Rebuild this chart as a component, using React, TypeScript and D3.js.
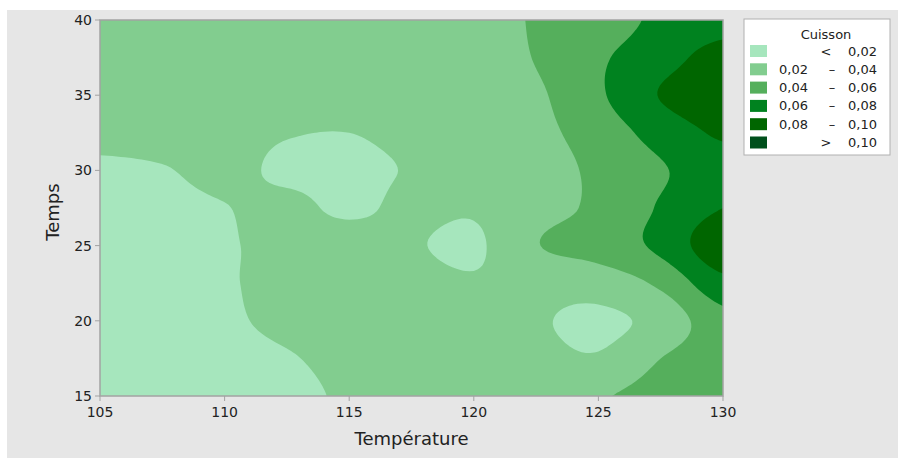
import { useMemo } from 'react'
import * as d3 from 'd3'

// Température (°C) columns and Temps (min) rows of the response grid
const temperatures = [105, 107.5, 110, 112.5, 115, 117.5, 120, 122.5, 125, 127.5, 130]
const times = [15, 17.5, 20, 22.5, 25, 27.5, 30, 32.5, 35, 37.5, 40]

// Cuisson, one row per time
const cuisson15 = [0.012, 0.014, 0.015, 0.017, 0.022, 0.028, 0.029, 0.030, 0.038, 0.047, 0.052]
const cuisson175 = [0.012, 0.014, 0.016, 0.019, 0.024, 0.028, 0.028, 0.026, 0.022, 0.040, 0.051]
const cuisson20 = [0.012, 0.014, 0.018, 0.023, 0.027, 0.028, 0.027, 0.022, 0.016, 0.027, 0.053]
const cuisson225 = [0.013, 0.015, 0.019, 0.023, 0.027, 0.027, 0.022, 0.026, 0.029, 0.044, 0.074]
const cuisson25 = [0.014, 0.015, 0.019, 0.023, 0.028, 0.022, 0.017, 0.039, 0.048, 0.065, 0.094]
const cuisson275 = [0.015, 0.016, 0.0195, 0.024, 0.017, 0.024, 0.022, 0.033, 0.044, 0.062, 0.080]
const cuisson30 = [0.017, 0.019, 0.024, 0.017, 0.017, 0.021, 0.026, 0.032, 0.044, 0.058, 0.072]
const cuisson325 = [0.025, 0.026, 0.026, 0.021, 0.020, 0.024, 0.028, 0.035, 0.049, 0.068, 0.083]
const cuisson35 = [0.029, 0.029, 0.028, 0.027, 0.026, 0.029, 0.030, 0.037, 0.057, 0.081, 0.093]
const cuisson375 = [0.030, 0.030, 0.029, 0.029, 0.029, 0.030, 0.030, 0.041, 0.057, 0.072, 0.088]
const cuisson40 = [0.030, 0.030, 0.030, 0.030, 0.030, 0.030, 0.030, 0.042, 0.050, 0.064, 0.072]

const cuissonRows = [cuisson15, cuisson175, cuisson20, cuisson225, cuisson25, cuisson275,
  cuisson30, cuisson325, cuisson35, cuisson375, cuisson40]

const levels = [0.02, 0.04, 0.06, 0.08, 0.1]
const levelColors = ['#a6e6bd', '#82cd8f', '#55af5c', '#00821f', '#006600', '#00501c']
const legendRows = [
  ['', '<', '0,02'],
  ['0,02', '–', '0,04'],
  ['0,04', '–', '0,06'],
  ['0,06', '–', '0,08'],
  ['0,08', '–', '0,10'],
  ['', '>', '0,10'],
]
const tempTicks = [105, 110, 115, 120, 125, 130]
const timeTicks = [15, 20, 25, 30, 35, 40]

const W = 898
const H = 459
const plot = { left: 100, right: 723, top: 20, bottom: 396 }
const font = '"DejaVu Sans", sans-serif'

// catmull-rom so the bands come out smooth like the minitab mesh
function cubic(p0: number, p1: number, p2: number, p3: number, t: number) {
  return p1 + 0.5 * t * (p2 - p0 + t * (2 * p0 - 5 * p1 + 4 * p2 - p3 + t * (3 * (p1 - p2) + p3 - p0)))
}

function resample(rows: number[][], nx: number, ny: number) {
  const R = rows.length, C = rows[0].length
  const at = (r: number, c: number) => rows[Math.max(0, Math.min(R - 1, r))][Math.max(0, Math.min(C - 1, c))]
  const out = new Array(nx * ny)
  for (let j = 0; j < ny; j++) {
    const gy = (j / (ny - 1)) * (R - 1)
    const r = Math.min(R - 2, Math.floor(gy)), ty = gy - r
    for (let i = 0; i < nx; i++) {
      const gx = (i / (nx - 1)) * (C - 1)
      const c = Math.min(C - 2, Math.floor(gx)), tx = gx - c
      const col = [-1, 0, 1, 2].map(dr =>
        cubic(at(r + dr, c - 1), at(r + dr, c), at(r + dr, c + 1), at(r + dr, c + 2), tx))
      out[j * nx + i] = cubic(col[0], col[1], col[2], col[3], ty)
    }
  }
  return out
}

export default function App() {
  const x = d3.scaleLinear().domain(d3.extent(temperatures) as [number, number]).range([plot.left, plot.right])
  const y = d3.scaleLinear().domain(d3.extent(times) as [number, number]).range([plot.bottom, plot.top])

  const nx = 151, ny = 121
  const bands = useMemo(() => {
    const values = resample(cuissonRows, nx, ny)
    return d3.contours().size([nx, ny]).thresholds(levels)(values)
  }, [])

  const t0 = temperatures[0], t1 = temperatures[temperatures.length - 1]
  const s0 = times[0], s1 = times[times.length - 1]
  const path = d3.geoPath(d3.geoTransform({
    point(px: number, py: number) {
      this.stream.point(
        x(t0 + ((px - 0.5) * (t1 - t0)) / (nx - 1)),
        y(s0 + ((py - 0.5) * (s1 - s0)) / (ny - 1)),
      )
    },
  }))

  const legend = { x: 744, y: 19, w: 146, h: 136 }

  return (
    <svg width={W} height={H} style={{ position: 'absolute', left: 0, top: 0 }} fontFamily={font}>
      <rect x={7} y={10} width={W - 7} height={448} fill="#e6e6e6" />
      <defs>
        <clipPath id="plotClip">
          <rect x={plot.left} y={plot.top} width={plot.right - plot.left} height={plot.bottom - plot.top} />
        </clipPath>
      </defs>
      <g clipPath="url(#plotClip)">
        <rect x={plot.left} y={plot.top} width={plot.right - plot.left} height={plot.bottom - plot.top} fill={levelColors[0]} />
        {bands.map((b, i) => (
          <path key={i} d={path(b as any) || ''} fill={levelColors[i + 1]} />
        ))}
      </g>
      <rect x={plot.left} y={plot.top} width={plot.right - plot.left} height={plot.bottom - plot.top}
        fill="none" stroke="#a3a3a3" strokeWidth={1.5} />

      {tempTicks.map(t => (
        <g key={t} transform={`translate(${x(t)},${plot.bottom})`}>
          <line y2={5} stroke="#a3a3a3" />
          <text y={21} textAnchor="middle" fontSize={14} fill="#222">{t}</text>
        </g>
      ))}
      {timeTicks.map(t => (
        <g key={t} transform={`translate(${plot.left},${y(t)})`}>
          <line x2={-5} stroke="#a3a3a3" />
          <text x={-8} dy="0.35em" textAnchor="end" fontSize={14} fill="#222">{t}</text>
        </g>
      ))}
      <text x={(plot.left + plot.right) / 2} y={445} textAnchor="middle" fontSize={18} fill="#222">Température</text>
      <text transform={`translate(59,${(plot.top + plot.bottom) / 2 + 4}) rotate(-90)`} textAnchor="middle" fontSize={18} fill="#222">Temps</text>

      <g>
        <rect x={legend.x} y={legend.y} width={legend.w} height={legend.h} fill="#fff" stroke="#b0b0b0" />
        <text x={826} y={39} textAnchor="middle" fontSize={13} fill="#222">Cuisson</text>
        {legendRows.map((row, i) => {
          const cy = 51 + i * 18.3
          return (
            <g key={i}>
              <rect x={750} y={cy - 6} width={17} height={12} fill={levelColors[i]} />
              <text x={779} y={cy} dy="0.35em" fontSize={13} fill="#222">{row[0]}</text>
              <text x={row[0] ? 832 : 826} y={cy} dy="0.35em" textAnchor="middle" fontSize={13} fill="#222">{row[1]}</text>
              <text x={877} y={cy} dy="0.35em" textAnchor="end" fontSize={13} fill="#222">{row[2]}</text>
            </g>
          )
        })}
      </g>
    </svg>
  )
}
